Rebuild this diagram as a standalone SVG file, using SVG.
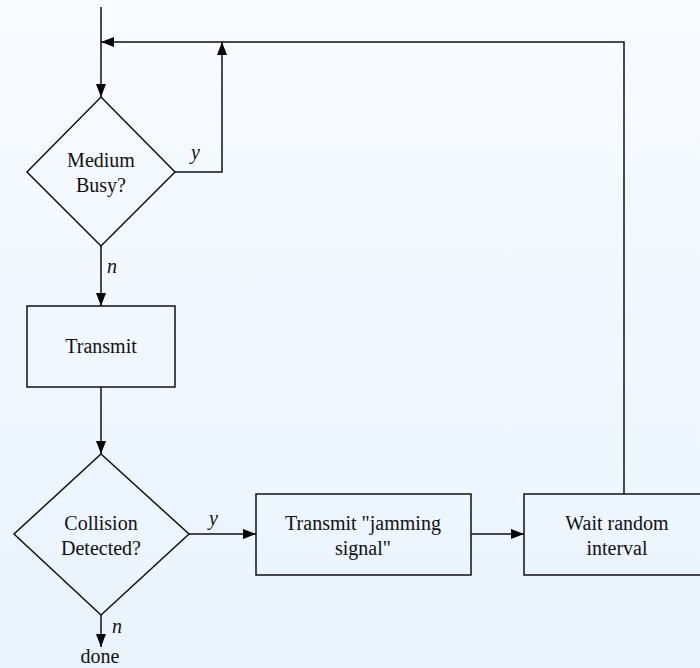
<svg xmlns="http://www.w3.org/2000/svg" width="700" height="668" viewBox="0 0 700 668">
<defs>
<linearGradient id="bg" x1="0" y1="0" x2="0" y2="1">
<stop offset="0" stop-color="#f8fbff"/>
<stop offset="1" stop-color="#eaf4fe"/>
</linearGradient>
<marker id="ah" markerUnits="userSpaceOnUse" markerWidth="14" markerHeight="10" refX="13" refY="5" orient="auto">
<path d="M0,0 L13,5 L0,10 z" fill="#000"/>
</marker>
</defs>
<style>
.shape{fill:none;stroke:#111;stroke-width:1.5}
.edge{fill:none;stroke:#111;stroke-width:1.5;marker-end:url(#ah)}
text{font-family:'Liberation Serif','DejaVu Serif',serif;font-size:20px;fill:#111}
.t{text-anchor:middle}
.lbl{font-style:italic}
</style>
<rect x="0" y="0" width="700" height="668" fill="url(#bg)"/>
<g id="connectors">
<path class="edge" d="M101,7 V97"/>
<path class="edge" d="M175,172 H222 V42"/>
<path class="edge" d="M624,494 V42 H101"/>
<path class="edge" d="M101,246 V306"/>
<path class="edge" d="M101,387 V454"/>
<path class="edge" d="M189,534 H256"/>
<path class="edge" d="M471,534 H524"/>
<path class="edge" d="M101,615 V647"/>
<text class="lbl" x="191" y="159">y</text>
<text class="lbl" x="107" y="273">n</text>
<text class="lbl" x="209" y="525">y</text>
<text class="lbl" x="112" y="633">n</text>
</g>
<g id="medium-busy">
<path class="shape" d="M101,97 L175,172 L101,246 L27,172 Z"/>
<text class="t" x="101" y="167">Medium</text>
<text class="t" x="101" y="192">Busy?</text>
</g>
<g id="transmit">
<rect class="shape" x="27" y="306" width="148" height="81"/>
<text class="t" x="101" y="353">Transmit</text>
</g>
<g id="collision">
<path class="shape" d="M101,454 L189,534 L101,615 L14,534 Z"/>
<text class="t" x="101" y="530">Collision</text>
<text class="t" x="101" y="555">Detected?</text>
</g>
<g id="jamming">
<rect class="shape" x="256" y="494" width="215" height="81"/>
<text class="t" x="363" y="530">Transmit "jamming</text>
<text class="t" x="363" y="555">signal"</text>
</g>
<g id="wait">
<rect class="shape" x="524" y="494" width="186" height="81"/>
<text class="t" x="617" y="530">Wait random</text>
<text class="t" x="617" y="555">interval</text>
</g>
<g id="done">
<text class="t" x="100" y="663">done</text>
</g>
</svg>
